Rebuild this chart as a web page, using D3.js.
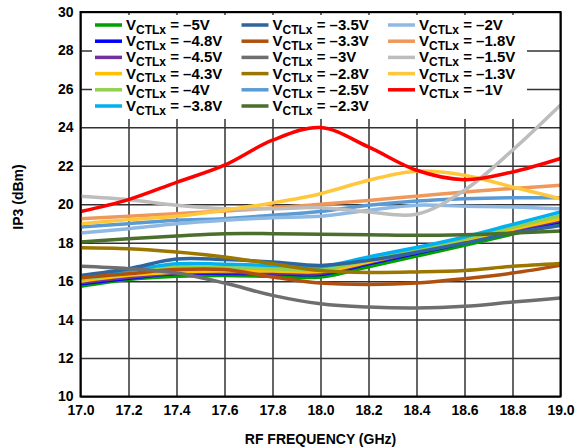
<!DOCTYPE html>
<html>
<head>
<meta charset="utf-8">
<script src="https://cdn.jsdelivr.net/npm/d3@7"></script>
<style>
  body { margin: 0; background: #fff; }
  text { font-family: Arial, "Liberation Sans", sans-serif; font-weight: bold; fill: #000; }
</style>
</head>
<body>
<div class="chart"></div>
<script>
var svgWidth = 575;
var svgHeight = 448;

// Data
var freqs = [17.0, 17.2, 17.4, 17.6, 17.8, 18.0, 18.2, 18.4, 18.6, 18.8, 19.0];
var labels = ["–5V", "–4.8V", "–4.5V", "–4.3V", "–4V", "–3.8V",
  "–3.5V", "–3.3V", "–3V", "–2.8V", "–2.5V", "–2.3V",
  "–2V", "–1.8V", "–1.5V", "–1.3V", "–1V"];
var colors = ["#00a000", "#0000ff", "#7030a0", "#ffc000", "#92d050", "#00b0f0",
  "#2e659e", "#b0500f", "#6e6e6e", "#9c7700", "#5b9bd5", "#4a6e2c",
  "#8fb9e3", "#f0975a", "#bdbdbd", "#ffc83c", "#ff0000"];

var v5 = [15.74, 16.09, 16.25, 16.3, 16.25, 16.21, 16.75, 17.3, 17.86, 18.45, 19.0];
var v48 = [15.87, 16.15, 16.4, 16.4, 16.4, 16.35, 16.9, 17.45, 18.0, 18.6, 19.1];
var v45 = [15.92, 16.2, 16.42, 16.45, 16.42, 16.4, 16.95, 17.5, 18.05, 18.65, 19.15];
var v43 = [16.0, 16.3, 16.48, 16.53, 16.53, 16.5, 17.0, 17.55, 18.1, 18.7, 19.25];
var v40 = [16.1, 16.4, 16.74, 16.7, 16.65, 16.6, 17.1, 17.65, 18.2, 18.8, 19.4];
var v38 = [16.2, 16.55, 16.9, 16.88, 16.82, 16.75, 17.26, 17.75, 18.3, 18.95, 19.6];
var v35 = [16.3, 16.65, 17.15, 17.12, 17.0, 16.82, 17.08, 17.5, 17.98, 18.5, 18.9];
var v33 = [16.18, 16.39, 16.6, 16.6, 16.22, 15.9, 15.83, 15.9, 16.13, 16.42, 16.82];
var v30 = [16.77, 16.65, 16.42, 15.9, 15.26, 14.82, 14.65, 14.6, 14.69, 14.91, 15.12];
var v28 = [17.74, 17.69, 17.52, 17.26, 16.9, 16.55, 16.45, 16.48, 16.56, 16.77, 16.92];
var v25 = [18.82, 18.99, 19.17, 19.25, 19.43, 19.62, 19.95, 20.17, 20.29, 20.34, 20.34];
var v23 = [18.04, 18.21, 18.35, 18.47, 18.47, 18.44, 18.42, 18.39, 18.42, 18.5, 18.61];
var v20 = [18.5, 18.73, 18.99, 19.17, 19.3, 19.37, 19.69, 19.95, 19.9, 19.86, 19.77];
var v18 = [19.25, 19.37, 19.51, 19.65, 19.8, 20.0, 20.2, 20.42, 20.64, 20.82, 20.99];
var v15 = [20.42, 20.24, 19.95, 19.77, 19.77, 19.82, 19.6, 19.48, 20.73, 22.81, 25.16];
var v13 = [18.99, 19.2, 19.37, 19.69, 20.07, 20.55, 21.25, 21.72, 21.51, 20.9, 20.29];
var v10 = [19.62, 20.24, 21.14, 22.03, 23.33, 23.99, 22.98, 21.77, 21.28, 21.68, 22.38];

var series = [v5, v48, v45, v43, v40, v38, v35, v33, v30, v28, v25, v23, v20, v18, v15, v13, v10];

var xTicks = [17.0, 17.2, 17.4, 17.6, 17.8, 18.0, 18.2, 18.4, 18.6, 18.8, 19.0];
var yTicks = [10, 12, 14, 16, 18, 20, 22, 24, 26, 28, 30];

var margin = { top: 12, right: 14.5, bottom: 51.5, left: 80.5 };
var width = svgWidth - margin.left - margin.right;
var height = svgHeight - margin.top - margin.bottom;

var svg = d3.select(".chart")
  .append("svg")
  .attr("width", svgWidth)
  .attr("height", svgHeight);

var chartGroup = svg.append("g")
  .attr("transform", `translate(${margin.left}, ${margin.top})`);

// Scales
var xScale = d3.scaleLinear().domain([17, 19]).range([0, width]);
var yScale = d3.scaleLinear().domain([10, 30]).range([height, 0]);

// Grid
chartGroup.append("g")
  .attr("transform", `translate(0, ${height})`)
  .call(d3.axisBottom(xScale).tickValues(xTicks).tickSize(-height).tickFormat(""))
  .call(g => g.select(".domain").remove())
  .call(g => g.selectAll("line").attr("stroke", "#333").attr("stroke-width", 1.5));

chartGroup.append("g")
  .call(d3.axisLeft(yScale).tickValues(yTicks).tickSize(-width).tickFormat(""))
  .call(g => g.select(".domain").remove())
  .call(g => g.selectAll("line").attr("stroke", "#333").attr("stroke-width", 1.5));

// Tick labels
chartGroup.append("g")
  .attr("transform", `translate(0, ${height})`)
  .call(d3.axisBottom(xScale).tickValues(xTicks).tickSize(0).tickPadding(9).tickFormat(d3.format(".1f")))
  .call(g => g.select(".domain").remove())
  .call(g => g.selectAll("text").style("font-size", "14px"));

chartGroup.append("g")
  .call(d3.axisLeft(yScale).tickValues(yTicks).tickSize(0).tickPadding(7))
  .call(g => g.select(".domain").remove())
  .call(g => g.selectAll("text").style("font-size", "14px"));

// Lines
var line = d3.line()
  .x((d, i) => xScale(freqs[i]))
  .y(d => yScale(d))
  .curve(d3.curveCatmullRom.alpha(0.5));

chartGroup.selectAll(".series")
  .data(series)
  .enter()
  .append("path")
  .attr("class", "series")
  .attr("d", d => line(d))
  .attr("fill", "none")
  .attr("stroke", (d, i) => colors[i])
  .attr("stroke-width", 3.5);

// Legend box covers the grid
chartGroup.append("rect")
  .attr("x", 11.5)
  .attr("y", 3)
  .attr("width", 435)
  .attr("height", 104)
  .attr("fill", "#fff");

var legend = chartGroup.selectAll(".legend")
  .data(labels)
  .enter()
  .append("g")
  .attr("class", "legend")
  .attr("transform", (d, i) => `translate(${14.5 + Math.floor(i / 6) * 146.5}, ${13 + (i % 6) * 16.2})`);

legend.append("line")
  .attr("x1", 0)
  .attr("x2", 27)
  .attr("stroke", (d, i) => colors[i])
  .attr("stroke-width", 3.5);

var legendText = legend.append("text")
  .attr("x", 31)
  .attr("y", 5)
  .style("font-size", "15px");

legendText.append("tspan").text("V");
legendText.append("tspan")
  .attr("dy", 3.5)
  .style("font-size", "12px")
  .text("CTLx");
legendText.append("tspan")
  .attr("dy", -3.5)
  .text(d => " = " + d);

// Frame
chartGroup.append("rect")
  .attr("width", width)
  .attr("height", height)
  .attr("fill", "none")
  .attr("stroke", "#000")
  .attr("stroke-width", 2);

// Axis titles
chartGroup.append("text")
  .attr("x", width / 2)
  .attr("y", height + 47)
  .attr("text-anchor", "middle")
  .style("font-size", "14px")
  .text("RF FREQUENCY (GHz)");

chartGroup.append("text")
  .attr("transform", "rotate(-90)")
  .attr("x", 0 - (197 - margin.top))
  .attr("y", 0 - margin.left + 23)
  .attr("text-anchor", "middle")
  .style("font-size", "14px")
  .text("IP3 (dBm)");
</script>
</body>
</html>
